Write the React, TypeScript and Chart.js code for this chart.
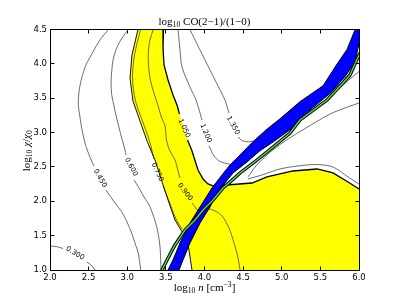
import React, { useEffect, useRef } from 'react';
import { Chart, registerables } from 'chart.js';

Chart.register(...registerables);

type P = [number, number];

// ---- axis ranges ----
const xRange: P = [2.0, 6.0];
const yRange: P = [1.0, 4.5];

// ---- yellow region boundaries ----
const yellowLeftEdge: P[] = [
  [3.139, 4.5], [3.061, 4.129], [3.036, 3.794], [3.074, 3.46], [3.165, 3.169], [3.256, 2.877],
  [3.359, 2.601], [3.443, 2.31], [3.528, 2.019], [3.618, 1.728], [3.696, 1.582], [3.761, 1.466],
  [3.799, 1.291], [3.838, 1.0],
];
const co1050Upper: P[] = [
  [3.469, 4.5], [3.463, 4.231], [3.476, 3.984], [3.528, 3.765], [3.592, 3.547], [3.644, 3.401], [3.676, 3.27],
];
const co1050Lower: P[] = [
  [3.78, 2.892], [3.834, 2.746], [3.916, 2.455], [3.981, 2.324], [4.045, 2.252], [4.11, 2.223],
  [4.369, 2.244], [4.615, 2.266], [4.809, 2.354], [5.146, 2.441], [5.456, 2.47], [5.663, 2.412],
  [5.858, 2.281], [6.0, 2.179],
];

// ---- blue band ----
const blueUpper: P[] = [
  [5.987, 4.609], [5.948, 4.493], [5.845, 4.21], [5.715, 3.995], [5.534, 3.68], [5.236, 3.45],
  [4.977, 3.2], [4.809, 3.05], [4.628, 2.868], [4.46, 2.674], [4.33, 2.528], [4.227, 2.383],
  [4.097, 2.193], [3.942, 1.917], [3.812, 1.684], [3.683, 1.393], [3.592, 1.146], [3.528, 1.0], [3.502, 0.913],
];
const blueLower: P[] = [
  [3.683, 0.913], [3.67, 1.0], [3.722, 1.146], [3.812, 1.393], [3.942, 1.684], [4.071, 1.917],
  [4.175, 2.135], [4.265, 2.266], [4.369, 2.412], [4.55, 2.572], [4.718, 2.735], [4.9, 2.872],
  [5.12, 3.052], [5.34, 3.305], [5.638, 3.582], [5.819, 3.815], [5.948, 4.02], [6.0, 4.3], [6.06, 4.609],
];

// ---- green line ----
const greenLine: P[] = [
  [6.039, 4.202], [6.0, 4.129], [5.883, 3.838], [5.793, 3.722], [5.586, 3.474], [5.236, 3.183],
  [5.107, 2.994], [4.887, 2.79], [4.68, 2.601], [4.46, 2.412], [4.33, 2.281], [4.24, 2.193],
  [4.11, 2.019], [3.981, 1.873], [3.877, 1.728], [3.748, 1.582], [3.618, 1.364], [3.515, 1.146],
  [3.45, 1.0], [3.424, 0.913],
];

// ---- contour lines (split where labels sit) ----
const c300a: P[] = [[2.0, 1.349], [2.091, 1.339], [2.168, 1.313]];
const c300b: P[] = [[2.479, 1.116], [2.544, 1.058], [2.583, 1.0]];
const c450a: P[] = [
  [2.755, 4.5], [2.647, 4.348], [2.561, 4.183], [2.466, 3.984], [2.41, 3.794], [2.375, 3.591],
  [2.366, 3.406], [2.388, 3.227], [2.41, 3.067], [2.453, 2.848], [2.492, 2.717], [2.544, 2.572], [2.57, 2.514],
];
const c450b: P[] = [
  [2.725, 2.164], [2.841, 1.975], [2.928, 1.848], [2.997, 1.699], [3.058, 1.534], [3.1, 1.393], [3.143, 1.243], [3.174, 1.0],
];
const c600a: P[] = [
  [3.014, 4.5], [2.932, 4.376], [2.863, 4.231], [2.816, 4.056], [2.799, 3.892], [2.79, 3.722],
  [2.799, 3.551], [2.828, 3.387], [2.863, 3.212], [2.928, 2.921], [2.971, 2.746], [2.984, 2.674],
];
const c600b: P[] = [
  [3.087, 2.31], [3.143, 2.212], [3.217, 2.062], [3.294, 1.921], [3.381, 1.63], [3.424, 1.339], [3.437, 1.0],
];
const c750a: P[] = [
  [3.172, 4.5], [3.094, 4.129], [3.068, 3.794], [3.107, 3.46], [3.197, 3.169], [3.288, 2.877], [3.346, 2.615],
];
const c750b: P[] = [[3.463, 2.223], [3.54, 2.004], [3.631, 1.742], [3.709, 1.597]];
const c900a: P[] = [
  [3.337, 4.5], [3.294, 4.348], [3.273, 4.183], [3.275, 3.984], [3.294, 3.794], [3.333, 3.62],
  [3.381, 3.455], [3.446, 3.212], [3.469, 3.154], [3.489, 3.096], [3.511, 2.873], [3.553, 2.732],
  [3.618, 2.601], [3.661, 2.426], [3.683, 2.339],
];
const c900b: P[] = [[3.838, 1.975], [3.916, 1.859]];
const c900c: P[] = [
  [4.032, 1.902], [4.136, 1.859], [4.227, 1.786], [4.317, 1.611], [4.382, 1.393], [4.434, 1.175], [4.46, 1.0],
];
const c1200a: P[] = [[3.657, 4.5], [3.683, 4.202], [3.709, 3.954], [3.812, 3.663], [3.89, 3.474], [3.968, 3.183]];
const c1200b: P[] = [[4.058, 2.805], [4.123, 2.659], [4.201, 2.579], [4.343, 2.535]];
const c1350a: P[] = [[3.812, 4.5], [3.942, 4.202], [4.071, 3.911], [4.175, 3.678], [4.265, 3.474], [4.317, 3.285]];
const c1350b: P[] = [[4.434, 2.936], [4.485, 2.885], [4.563, 2.863], [4.628, 2.877]];
const c1500a: P[] = [[6.039, 3.925], [5.883, 3.78], [5.767, 3.663]];
const c1500b: P[] = [
  [6.039, 3.445], [5.819, 3.358], [5.625, 3.27], [5.314, 3.067], [5.042, 2.877], [4.822, 2.688], [4.667, 2.514], [4.563, 2.354],
];
const c1500c: P[] = [
  [4.563, 2.324], [4.744, 2.383], [4.977, 2.47], [5.21, 2.514], [5.456, 2.535], [5.663, 2.499], [5.858, 2.354], [6.039, 2.223],
];

// ---- contour labels ----
const labelTexts = ['0.300', '0.450', '0.600', '0.750', '0.900', '1.050', '1.200', '1.350'];
const labelX = [2.324, 2.647, 3.049, 3.389, 3.748, 3.735, 4.016, 4.369];
const labelY = [1.243, 2.335, 2.499, 2.422, 2.135, 3.062, 2.99, 3.103];
const labelAngle = [30, 60, 62, 65, 53, 65, 68, 61];

type Part = { t: string; sub?: boolean; sup?: boolean; it?: boolean };
const titleParts: Part[] = [{ t: 'log' }, { t: '10', sub: true }, { t: ' CO(2\u22121)/(1\u22120)' }];
const xLabelParts: Part[] = [
  { t: 'log' }, { t: '10', sub: true }, { t: ' ' }, { t: 'n', it: true }, { t: ' [cm' }, { t: '\u22123', sup: true }, { t: ']' },
];
const yLabelParts: Part[] = [
  { t: 'log' }, { t: '10', sub: true }, { t: ' ' }, { t: '\u03c7', it: true }, { t: '/' }, { t: '\u03c7', it: true }, { t: '0', sub: true },
];

const SERIF = '"Liberation Serif", "DejaVu Serif", serif';

function drawRich(ctx: CanvasRenderingContext2D, parts: Part[], cx: number, cy: number, size: number) {
  const fontFor = (p: Part) => `${p.it ? 'italic ' : ''}${p.sub || p.sup ? size * 0.7 : size}px ${SERIF}`;
  let total = 0;
  const widths = parts.map((p) => {
    ctx.font = fontFor(p);
    const w = ctx.measureText(p.t).width;
    total += w;
    return w;
  });
  let x = cx - total / 2;
  ctx.textAlign = 'left';
  ctx.textBaseline = 'alphabetic';
  parts.forEach((p, i) => {
    ctx.font = fontFor(p);
    const dy = p.sub ? size * 0.22 : p.sup ? -size * 0.4 : 0;
    ctx.fillText(p.t, x, cy + dy);
    x += widths[i];
  });
}

const decorPlugin = {
  id: 'decor',
  afterDatasetsDraw(chart: any) {
    const { ctx, scales } = chart;
    const xs = scales.x;
    const ys = scales.y;
    ctx.save();
    ctx.font = '7px "DejaVu Sans"';
    ctx.fillStyle = '#000';
    ctx.textAlign = 'center';
    ctx.textBaseline = 'middle';
    labelTexts.forEach((txt, i) => {
      ctx.save();
      ctx.translate(xs.getPixelForValue(labelX[i]), ys.getPixelForValue(labelY[i]));
      ctx.rotate((labelAngle[i] * Math.PI) / 180);
      ctx.fillText(txt, 0, 0);
      ctx.restore();
    });
    ctx.restore();
  },
  afterDraw(chart: any) {
    const { ctx, chartArea, scales } = chart;
    const { left, right, top, bottom } = chartArea;
    const L = Math.floor(left) + 0.5;
    const R = Math.floor(right) + 0.5;
    const T = Math.floor(top) + 0.5;
    const B = Math.floor(bottom) + 0.5;
    ctx.save();
    ctx.strokeStyle = '#000';
    ctx.lineWidth = 1;
    ctx.beginPath();
    for (const t of scales.x.ticks) {
      const px = Math.floor(scales.x.getPixelForValue(t.value)) + 0.5;
      ctx.moveTo(px, B);
      ctx.lineTo(px, B - 4);
      ctx.moveTo(px, T);
      ctx.lineTo(px, T + 4);
    }
    for (const t of scales.y.ticks) {
      const py = Math.floor(scales.y.getPixelForValue(t.value)) + 0.5;
      ctx.moveTo(L, py);
      ctx.lineTo(L + 4, py);
      ctx.moveTo(R, py);
      ctx.lineTo(R - 4, py);
    }
    ctx.stroke();
    ctx.strokeRect(L, T, R - L, B - T);

    ctx.fillStyle = '#000';
    const cx = (left + right) / 2;
    drawRich(ctx, titleParts, cx, top - 4.5, 11);
    drawRich(ctx, xLabelParts, cx, bottom + 21, 11);
    ctx.save();
    ctx.translate(30, (top + bottom) / 2 + 1);
    ctx.rotate(-Math.PI / 2);
    drawRich(ctx, yLabelParts, 0, 0, 11);
    ctx.restore();
    ctx.restore();
  },
};

const toXY = (pts: P[]) => pts.map(([x, y]) => ({ x, y }));

function lineSet(pts: P[], color: string, width: number, order: number, tension = 0) {
  return {
    data: toXY(pts),
    borderColor: color,
    borderWidth: width,
    pointRadius: 0,
    fill: false,
    tension,
    order,
  };
}

export default function App() {
  const ref = useRef<HTMLCanvasElement | null>(null);

  useEffect(() => {
    document.body.style.margin = '0';
    const canvas = ref.current;
    if (!canvas) return;

    const yellowRegion: P[] = [
      ...yellowLeftEdge,
      [6.0, 1.0],
      ...[...co1050Lower].reverse(),
      ...[...co1050Upper].reverse(),
    ];
    const blueRegion: P[] = [...blueUpper, ...blueLower];

    const contourColor = '#474747';
    const cw = 0.8;
    const contours = [c300a, c300b, c450a, c450b, c600a, c600b, c750a, c750b, c900a, c900b, c900c,
      c1200a, c1200b, c1350a, c1350b, c1500a, c1500b, c1500c];

    const datasets: any[] = [
      {
        data: toXY(yellowRegion),
        borderColor: 'rgba(0,0,0,0)',
        borderWidth: 0,
        backgroundColor: '#ffff00',
        fill: 'shape',
        pointRadius: 0,
        tension: 0,
        order: 100,
      },
      ...contours.map((c) => lineSet(c, contourColor, cw, 50, 0.3)),
      lineSet(yellowLeftEdge, '#111', 1.0, 40),
      lineSet(co1050Upper, '#000', 1.3, 40),
      lineSet(co1050Lower, '#000', 1.3, 40),
      {
        data: toXY(blueRegion),
        borderColor: '#000',
        borderWidth: 1,
        backgroundColor: '#0000ff',
        fill: 'shape',
        pointRadius: 0,
        tension: 0,
        order: 20,
      },
      lineSet(greenLine, '#000', 3.4, 11),
      lineSet(greenLine, '#55dd55', 1.4, 10),
    ];

    const tickFont = { family: 'DejaVu Sans', size: 8.5 };

    const chart = new Chart(canvas, {
      type: 'line',
      data: { datasets },
      plugins: [decorPlugin],
      options: {
        responsive: false,
        animation: false,
        devicePixelRatio: 1,
        layout: { padding: { left: 0, right: 40, top: 29.5, bottom: 0 } },
        plugins: { legend: { display: false }, tooltip: { enabled: false }, title: { display: false } },
        elements: { point: { radius: 0 } },
        scales: {
          x: {
            type: 'linear',
            min: xRange[0],
            max: xRange[1],
            afterFit: (s: any) => {
              s.height = 31;
            },
            ticks: {
              stepSize: 0.5,
              autoSkip: false,
              maxRotation: 0,
              padding: 3,
              color: '#000',
              font: tickFont,
              callback: (v: any) => Number(v).toFixed(1),
            },
            grid: { display: false, drawTicks: false },
            border: { display: false },
          },
          y: {
            type: 'linear',
            min: yRange[0],
            max: yRange[1],
            afterFit: (s: any) => {
              s.width = 50;
            },
            ticks: {
              stepSize: 0.5,
              autoSkip: false,
              padding: 3,
              color: '#000',
              font: tickFont,
              callback: (v: any) => Number(v).toFixed(1),
            },
            grid: { display: false, drawTicks: false },
            border: { display: false },
          },
        },
      } as any,
    });
    return () => chart.destroy();
  }, []);

  return (
    <div style={{ width: 399, height: 301 }}>
      <canvas ref={ref} width={399} height={301} style={{ display: 'block', width: 399, height: 301 }} />
    </div>
  );
}
